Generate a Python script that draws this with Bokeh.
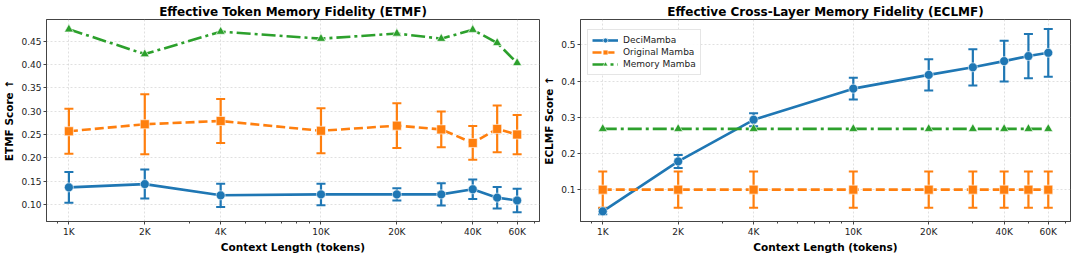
from bokeh.plotting import figure
from bokeh.models import Range1d, FixedTicker, Whisker, ColumnDataSource, TeeHead, CustomJSTickFormatter, NumeralTickFormatter, Legend, LegendItem
from bokeh.layouts import row
from bokeh.embed import file_html
from bokeh.resources import INLINE

# ---------------- data ----------------
context = [1000, 2000, 4000, 10000, 20000, 30000, 40000, 50000, 60000]
x_ticks = [1000, 2000, 4000, 10000, 20000, 40000, 60000]
x_minor = [900, 3000, 5000, 6000, 7000, 8000, 9000, 30000, 50000, 70000]

etmf_deci = [0.137, 0.144, 0.120, 0.122, 0.122, 0.122, 0.133, 0.115, 0.109]
etmf_deci_err = [0.033, 0.031, 0.025, 0.023, 0.013, 0.024, 0.021, 0.023, 0.025]
etmf_orig = [0.257, 0.272, 0.279, 0.258, 0.269, 0.261, 0.232, 0.262, 0.250]
etmf_orig_err = [0.048, 0.064, 0.047, 0.048, 0.048, 0.038, 0.036, 0.050, 0.042]
etmf_mem = [0.475, 0.422, 0.470, 0.455, 0.466, 0.455, 0.474, 0.446, 0.403]

eclmf_deci = [0.040, 0.178, 0.293, 0.379, 0.417, 0.438, 0.455, 0.469, 0.478]
eclmf_deci_err = [0.008, 0.018, 0.018, 0.030, 0.043, 0.050, 0.056, 0.061, 0.066]
eclmf_orig = [0.100, 0.100, 0.100, 0.100, 0.100, 0.100, 0.100, 0.100, 0.100]
eclmf_orig_err = [0.050, 0.050, 0.050, 0.050, 0.050, 0.050, 0.050, 0.050, 0.050]
eclmf_mem = [0.268, 0.268, 0.268, 0.268, 0.268, 0.268, 0.268, 0.268, 0.268]

BLUE, ORANGE, GREEN = "#1f77b4", "#ff7f0e", "#2ca02c"
FONT = "DejaVu Sans"
EDGE = "#444444"


def make_fig(title, ylabel, yr, yticks, yfmt, border_left, border_right, width):
    p = figure(width=width, height=255, x_axis_type="log",
               x_range=Range1d(815, 73600), y_range=Range1d(*yr),
               output_backend="svg", toolbar_location=None,
               min_border_left=border_left, min_border_right=border_right,
               min_border_top=19, min_border_bottom=33)
    p.title.text = title
    p.title.text_font = FONT
    p.title.text_font_size = "12px"
    p.title.text_font_style = "bold"
    p.title.align = "center"
    p.title.standoff = 2
    p.title.text_color = "black"
    p.outline_line_color = EDGE
    p.outline_line_width = 1
    p.background_fill_color = "white"

    p.xaxis.ticker = FixedTicker(ticks=x_ticks, minor_ticks=x_minor)
    p.xaxis.formatter = CustomJSTickFormatter(code="return (tick/1000).toFixed(0) + 'K';")
    p.yaxis.ticker = FixedTicker(ticks=yticks)
    p.yaxis.formatter = NumeralTickFormatter(format=yfmt)
    p.xaxis.axis_label = "Context Length (tokens)"
    p.yaxis.axis_label = ylabel
    for ax in (p.xaxis, p.yaxis):
        ax.axis_label_text_font = FONT
        ax.axis_label_text_font_size = "10.5px"
        ax.axis_label_text_font_style = "bold"
        ax.axis_label_text_color = "black"
        ax.axis_label_standoff = 1
        ax.major_label_text_font = FONT
        ax.major_label_text_font_size = "9px"
        ax.major_label_text_color = "#222222"
        ax.major_label_standoff = 2
        ax.axis_line_color = EDGE
        ax.major_tick_line_color = EDGE
        ax.major_tick_in = 0
        ax.major_tick_out = 3
        ax.minor_tick_line_color = EDGE
        ax.minor_tick_in = 0
        ax.minor_tick_out = 2
    p.yaxis.minor_tick_line_color = None
    p.yaxis.axis_label_standoff = 3
    p.grid.grid_line_color = "#cccccc"
    p.grid.grid_line_dash = "2 2"
    p.grid.grid_line_alpha = 0.6
    return p


def add_err(p, y, err, color):
    src = ColumnDataSource(dict(x=context,
                                upper=[a + b for a, b in zip(y, err)],
                                lower=[a - b for a, b in zip(y, err)]))
    w = Whisker(base="x", upper="upper", lower="lower", source=src,
                dimension="height", line_color=color, line_width=2.2,
                upper_head=TeeHead(size=9, line_color=color, line_width=2),
                lower_head=TeeHead(size=9, line_color=color, line_width=2))
    p.add_layout(w)


def add_series(p, y, color, dash, marker, size):
    ln = p.line(context, y, line_color=color, line_width=2.6, line_dash=dash)
    sc = p.scatter(context, y, marker=marker, size=size, fill_color=color,
                   line_color="white", line_width=0.6)
    return [ln, sc]


# ---------------- left: ETMF ----------------
p1 = make_fig("Effective Token Memory Fidelity (ETMF)", "ETMF Score \u2191",
              (0.064, 0.496), [0.10, 0.15, 0.20, 0.25, 0.30, 0.35, 0.40, 0.45],
              "0.00", 45, 1, 540)
add_err(p1, etmf_deci, etmf_deci_err, BLUE)
add_err(p1, etmf_orig, etmf_orig_err, ORANGE)
add_series(p1, etmf_deci, BLUE, "solid", "circle", 9)
add_series(p1, etmf_orig, ORANGE, "9 4", "square", 9)
add_series(p1, etmf_mem, GREEN, "14 4 3 4", "triangle", 9)

# ---------------- right: ECLMF ----------------
p2 = make_fig("Effective Cross-Layer Memory Fidelity (ECLMF)", "ECLMF Score \u2191",
              (0.012, 0.57), [0.1, 0.2, 0.3, 0.4, 0.5], "0.0", 40, 10, 540)
add_err(p2, eclmf_deci, eclmf_deci_err, BLUE)
add_err(p2, eclmf_orig, eclmf_orig_err, ORANGE)
r_deci = add_series(p2, eclmf_deci, BLUE, "solid", "circle", 9)
r_orig = add_series(p2, eclmf_orig, ORANGE, "9 4", "square", 9)
r_mem = add_series(p2, eclmf_mem, GREEN, "14 4 3 4", "triangle", 9)

legend = Legend(items=[LegendItem(label="DeciMamba", renderers=r_deci),
                       LegendItem(label="Original Mamba", renderers=r_orig),
                       LegendItem(label="Memory Mamba", renderers=r_mem)],
                location=(7, 146))
legend.label_text_font = FONT
legend.label_text_font_size = "9px"
legend.label_text_color = "#222222"
legend.glyph_width = 26
legend.glyph_height = 12
legend.label_height = 12
legend.spacing = 0
legend.padding = 4
legend.margin = 0
legend.border_line_color = "#cccccc"
legend.border_line_width = 1
legend.background_fill_alpha = 0.9
p2.add_layout(legend)

layout = row(p1, p2)
open("out.html", "w").write(file_html(layout, INLINE))
